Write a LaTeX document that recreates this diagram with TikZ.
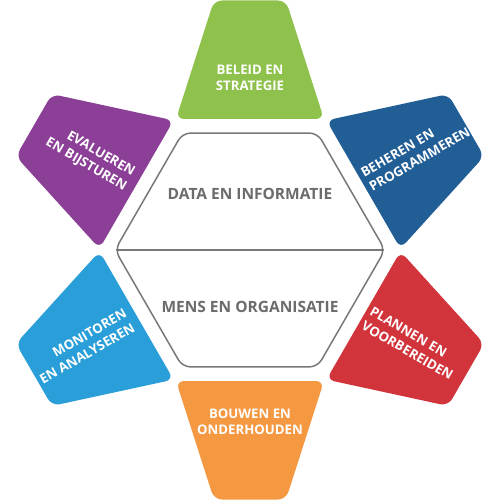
\documentclass[tikz,border=0pt]{standalone}
\usepackage{fontspec}
\setmainfont{Open Sans}
\usetikzlibrary{calc}
\definecolor{cgreen}{RGB}{143,193,77}
\definecolor{cblue}{RGB}{34,94,150}
\definecolor{cred}{RGB}{210,52,59}
\definecolor{corange}{RGB}{245,152,66}
\definecolor{ccyan}{RGB}{41,158,216}
\definecolor{cpurple}{RGB}{139,63,150}
\definecolor{hexgray}{RGB}{120,120,120}
\definecolor{hextext}{RGB}{108,108,108}
\begin{document}
\begin{tikzpicture}[x=1pt,y=1pt,
  lbl/.style={text=white,font=\bfseries\fontsize{13.2}{16.5}\selectfont,align=center,inner sep=0pt},
  hexlbl/.style={text=hextext,font=\bfseries\fontsize{15.5}{18}\selectfont,inner sep=0pt},
  hexline/.style={draw=hexgray,line width=1.5pt}]
\useasboundingbox (-250,-250) rectangle (250,250);
\fill[white] (-250,-250) rectangle (250,250);
\foreach \ang/\col in {90/cgreen,30/cblue,-30/cred,-90/corange,-150/ccyan,150/cpurple}{
  \fill[\col,rounded corners=8pt,rotate={\ang-90}] (-74,131) -- (74,131) -- (36,249.5) -- (-36,249.5) -- cycle;
}
\draw[hexline,fill=white,rounded corners=8pt] (0:135) -- (60:135) -- (120:135) -- (180:135) -- (240:135) -- (300:135) -- cycle;
\coordinate (hl) at (-133.7,0);
\coordinate (hr) at (133.7,0);
\draw[hexline] (hl) -- (hr);
\node[hexlbl] (data) at (0,56) {DATA EN INFORMATIE};
\node[hexlbl] (mens) at (0,-57) {MENS EN ORGANISATIE};
\node[lbl] (beleid) at (0,172) {BELEID EN\\STRATEGIE};
\node[lbl] (bouwen) at (0,-172) {BOUWEN EN\\ONDERHOUDEN};
\node[lbl,align=left,anchor=west,rotate=30] (beheren) at ($(30:135)+(120:2)$) {BEHEREN EN\\PROGRAMMEREN};
\node[lbl,align=left,anchor=west,rotate=-30] (plannen) at (-30:135) {PLANNEN EN\\VOORBEREIDEN};
\node[lbl,align=right,anchor=east,rotate=-30] (evalueren) at (150:139) {EVALUEREN\\EN BIJSTUREN};
\node[lbl,align=right,anchor=east,rotate=30] (monitoren) at (-150:139) {MONITOREN\\EN ANALYSEREN};
\end{tikzpicture}
\end{document}
